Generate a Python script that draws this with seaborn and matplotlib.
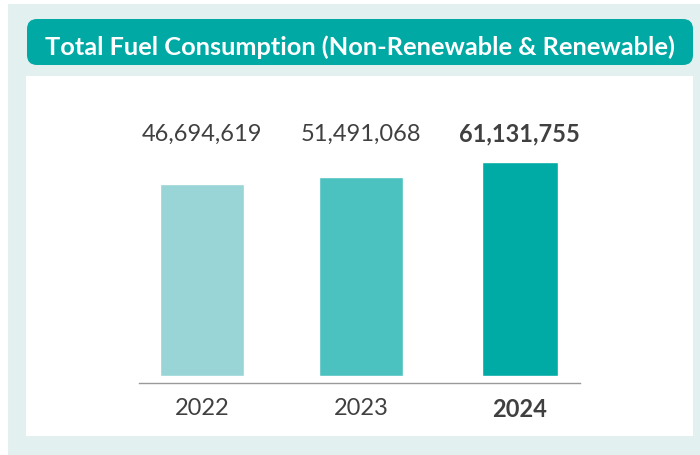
import matplotlib

matplotlib.use("Agg")
import matplotlib.pyplot as plt
from matplotlib.patches import FancyBboxPatch, Rectangle
import seaborn as sns

YEARS = ["2022", "2023", "2024"]
CONSUMPTION = [46694619, 51491068, 61131755]
BAR_COLORS = ["#99d5d6", "#4bc2bf", "#00aaa5"]
TITLE = "Total Fuel Consumption (Non-Renewable & Renewable)"

MINT = "#e2f1f0"
TEAL = "#00a9a4"
TEXT = "#404040"
BASE = -79.3e6  # bars start well below zero in the original design
PX_PER_UNIT = 1.524e-6

sns.set_style("white")
plt.rcParams["font.family"] = ["Lato", "DejaVu Sans"]

fig = plt.figure(figsize=(7, 4.56), dpi=100)
fig.patch.set_facecolor("white")
inch = fig.dpi_scale_trans

# background panels (pixel coordinates / 100 -> inches)
fig.patches.append(Rectangle((0.08, 0), 6.92, 4.51, transform=inch, facecolor=MINT,
                             edgecolor="none", zorder=-2))
fig.patches.append(Rectangle((0.26, 0.19), 6.67, 3.60, transform=inch, facecolor="white",
                             edgecolor="none", zorder=-1))
fig.patches.append(
    FancyBboxPatch(
        (0.27, 3.90), 6.66, 0.46,
        boxstyle="round,pad=0,rounding_size=0.1",
        transform=inch, facecolor=TEAL, edgecolor="none", zorder=-1,
    )
)
fig.text(3.60, 4.01, TITLE, transform=inch, ha="center", va="baseline",
         color="white", fontsize=18.3, fontweight="bold")

ax = fig.add_axes([139 / 700, 72 / 456, 441 / 700, 274 / 456])
ax.set_facecolor("none")
sns.barplot(x=YEARS, y=CONSUMPTION, hue=YEARS, palette=BAR_COLORS, legend=False,
            width=0.53, saturation=1, ax=ax)

widths = [0.53, 0.53, 0.48]
for patch, w in zip(ax.patches, widths):
    center = patch.get_x() + patch.get_width() / 2
    patch.set_x(center - w / 2)
    patch.set_width(w)
    patch.set_height(patch.get_height() - BASE)
    patch.set_y(BASE)

bottom = BASE - 7 / PX_PER_UNIT
ax.set_ylim(bottom, bottom + 274 / PX_PER_UNIT)
ax.set_xlim(-0.40, 2.38)

for i, value in enumerate(CONSUMPTION):
    last = i == len(CONSUMPTION) - 1
    ax.text(i, 0.887, f"{value:,}", transform=ax.get_xaxis_transform(), ha="center", va="baseline",
            fontsize=17, color=TEXT, fontweight="bold" if last else "normal")

for spine in ["left", "right", "top"]:
    ax.spines[spine].set_visible(False)
ax.spines["bottom"].set_color("#9a9a9a")
ax.spines["bottom"].set_linewidth(1)
ax.set_yticks([])
ax.set_xlabel("")
ax.set_ylabel("")
ax.tick_params(axis="x", length=0, pad=10, labelsize=17, labelcolor=TEXT)
for i, label in enumerate(ax.get_xticklabels()):
    label.set_fontweight("bold" if i == len(YEARS) - 1 else "normal")

fig.savefig("out.png", dpi=100)
plt.close(fig)
